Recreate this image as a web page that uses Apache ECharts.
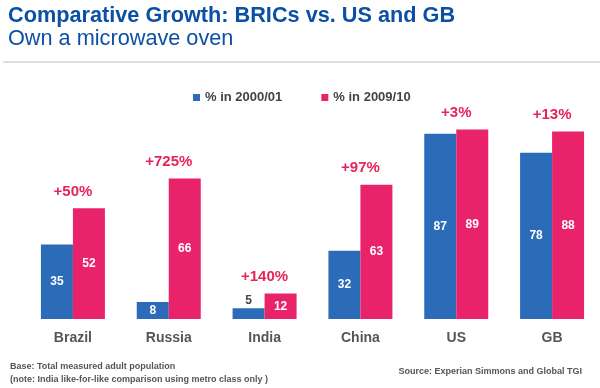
<!DOCTYPE html>
<html>
<head>
<meta charset="utf-8">
<script src="https://cdn.jsdelivr.net/npm/echarts@6/dist/echarts.min.js"></script>
<style>html,body{margin:0;padding:0;background:#fff;}#c{width:600px;height:388px;}</style>
</head>
<body>
<div id="c"></div>
<script>
var categories = ['Brazil', 'Russia', 'India', 'China', 'US', 'GB'];
var values2000 = [35, 8, 5, 32, 87, 78];
var values2009 = [52, 66, 12, 63, 89, 88];
var growthLabels = ['+50%', '+725%', '+140%', '+97%', '+3%', '+13%'];
var seriesNames = ['% in 2000/01', '% in 2009/10'];

var FONT = 'Liberation Sans, Arial, sans-serif';
var BLUE = '#2b6bb8', PINK = '#e8236a', RED = '#e8235a';

function barData(arr) {
  return arr.map(function (v) {
    if (v < 6) {
      return { value: v, label: { position: 'top', distance: 2, color: '#444' } };
    }
    return v;
  });
}

var chart = echarts.init(document.getElementById('c'), null, { renderer: 'canvas' });
chart.setOption({
  animation: false,
  backgroundColor: '#fff',
  title: [
    { text: 'Comparative Growth: BRICs vs. US and GB', left: 8, top: 5, padding: 0,
      textStyle: { fontFamily: FONT, fontSize: 21.7, fontWeight: 'bold', color: '#0b50a5' } },
    { text: 'Own a microwave oven', left: 8, top: 28, padding: 0,
      textStyle: { fontFamily: FONT, fontSize: 21.7, fontWeight: 'normal', color: '#0b50a5' } },
    { text: 'Base: Total measured adult population', left: 10, top: 362, padding: 0,
      textStyle: { fontFamily: FONT, fontSize: 9, fontWeight: 'bold', color: '#555' } },
    { text: '(note: India like-for-like comparison using metro class only )', left: 10, top: 375, padding: 0,
      textStyle: { fontFamily: FONT, fontSize: 9, fontWeight: 'bold', color: '#555' } },
    { text: 'Source: Experian Simmons and Global TGI', right: 18, top: 367, padding: 0,
      textStyle: { fontFamily: FONT, fontSize: 9, fontWeight: 'bold', color: '#555' } }
  ],
  graphic: [
    { type: 'line', shape: { x1: 3, y1: 62, x2: 600, y2: 62 }, style: { stroke: '#dedede', lineWidth: 2 } }
  ],
  legend: {
    data: seriesNames,
    left: 193, top: 91, padding: 0,
    itemWidth: 7, itemHeight: 7, itemGap: 39,
    icon: 'rect',
    textStyle: { fontFamily: FONT, fontSize: 13, fontWeight: 'bold', color: '#444' }
  },
  grid: { left: 25, top: 106, width: 577, height: 213, containLabel: false },
  xAxis: {
    type: 'category', data: categories,
    axisLine: { show: false }, axisTick: { show: false },
    axisLabel: { margin: 12, fontFamily: FONT, fontSize: 14, fontWeight: 'bold', color: '#555' }
  },
  yAxis: { type: 'value', min: 0, max: 100, show: false, splitLine: { show: false } },
  series: [
    { name: seriesNames[0], type: 'bar', data: barData(values2000), barWidth: 32, barGap: '0%',
      itemStyle: { color: BLUE },
      label: { show: true, position: 'inside', color: '#fff', fontFamily: FONT, fontSize: 12, fontWeight: 'bold' } },
    { name: seriesNames[1], type: 'bar', data: barData(values2009), barWidth: 32, barGap: '0%',
      itemStyle: { color: PINK },
      label: { show: true, position: 'inside', color: '#fff', fontFamily: FONT, fontSize: 12, fontWeight: 'bold' } },
    { name: 'growth', type: 'scatter', symbol: 'circle', symbolSize: 0,
      itemStyle: { color: RED, opacity: 1 },
      data: values2009,
      label: { show: true, position: 'top', distance: 9, opacity: 1,
        formatter: function (p) { return growthLabels[p.dataIndex]; },
        fontFamily: FONT, fontSize: 15, fontWeight: 'bold', color: RED },
      emphasis: { disabled: true },
      silent: true }
  ]
});
</script>
</body>
</html>
